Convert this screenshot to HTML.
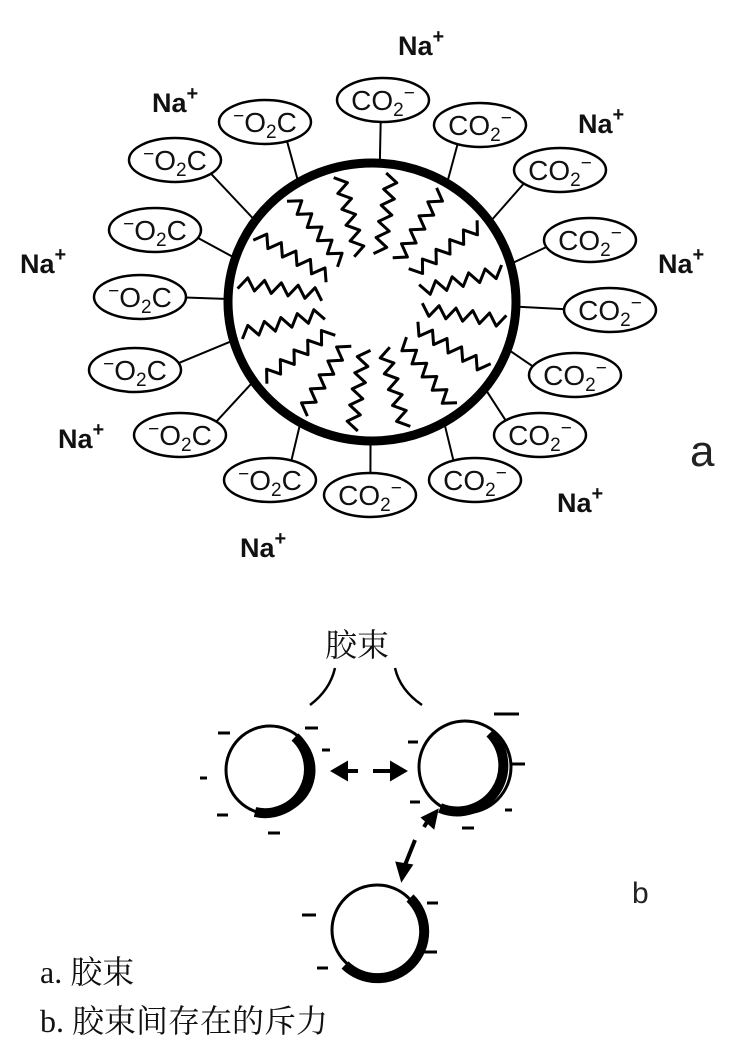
<!DOCTYPE html>
<html><head><meta charset="utf-8"><style>
html,body{margin:0;padding:0;background:#fff;width:755px;height:1054px;overflow:hidden}
svg{position:absolute;left:0;top:0}
.t{font-family:"Liberation Sans",sans-serif;font-weight:bold;font-size:27px;fill:#111}
.e{font-family:"Liberation Sans",sans-serif;font-size:28px;fill:#111}
.c{font-family:"Liberation Serif","Noto Serif CJK SC",serif;font-size:32px;fill:#111}
</style></head><body>
<svg id="s" width="755" height="1054" viewBox="0 0 755 1054" xmlns="http://www.w3.org/2000/svg">
<g id="tails" stroke="#000" stroke-width="3" fill="none" stroke-linejoin="round"></g>
<g id="conn" stroke="#000" stroke-width="2" fill="none"></g>
<ellipse cx="372" cy="302" rx="144" ry="139" fill="none" stroke="#000" stroke-width="9"/>
<g id="ells" fill="#fff" stroke="#000" stroke-width="2.5"></g>
<g id="lbl"></g>
<text class="t" x="398" y="55">Na<tspan font-size="20" dy="-12">+</tspan></text>
<text class="t" x="152" y="112">Na<tspan font-size="20" dy="-12">+</tspan></text>
<text class="t" x="578" y="133">Na<tspan font-size="20" dy="-12">+</tspan></text>
<text class="t" x="20" y="273">Na<tspan font-size="20" dy="-12">+</tspan></text>
<text class="t" x="658" y="273">Na<tspan font-size="20" dy="-12">+</tspan></text>
<text class="t" x="58" y="448">Na<tspan font-size="20" dy="-12">+</tspan></text>
<text class="t" x="557" y="512">Na<tspan font-size="20" dy="-12">+</tspan></text>
<text class="t" x="240" y="557">Na<tspan font-size="20" dy="-12">+</tspan></text>
<text x="690" y="466" font-family="Liberation Sans,sans-serif" font-size="44" fill="#222">a</text>
<text x="632" y="903" font-family="Liberation Sans,sans-serif" font-size="30" fill="#222">b</text>
<text class="c" x="325" y="656" font-size="38">胶束</text>
<path d="M335 668 Q330 690 310 705" stroke="#000" stroke-width="2.5" fill="none"/>
<path d="M395 668 Q400 690 422 705" stroke="#000" stroke-width="2.5" fill="none"/>
<g fill="#fff" stroke="#000" stroke-width="3">
<circle cx="270" cy="770" r="44"/><circle cx="465" cy="767" r="46"/><circle cx="377" cy="930" r="45"/>
</g>
<g fill="none" stroke="#000" stroke-width="10">
<path d="M295 737 A44 44 0 0 1 255 812"/>
<path d="M490 733 A46 46 0 0 1 440 808"/>
<path d="M410 898 A45 45 0 0 1 345 965"/>
</g>
<g stroke="#000" stroke-width="4" fill="#000">
<line x1="340" y1="771" x2="358" y2="771"/><polygon points="334,771 346,764 346,778"/>
<line x1="373" y1="771" x2="395" y2="771"/><polygon points="404,771 392,764 392,778"/>
<line x1="424" y1="827" x2="430" y2="817"/><polygon points="436,812 424,818 433,826"/>
<line x1="415" y1="840" x2="403" y2="870"/><polygon points="402,878 398,864 410,866"/>
</g>
<g stroke="#000" stroke-width="3">
<line x1="218" y1="733" x2="230" y2="733"/><line x1="305" y1="728" x2="318" y2="728"/><line x1="322" y1="750" x2="330" y2="750"/>
<line x1="200" y1="778" x2="207" y2="778"/><line x1="217" y1="815" x2="228" y2="815"/><line x1="268" y1="833" x2="280" y2="833"/>
<line x1="494" y1="714" x2="519" y2="714"/><line x1="408" y1="742" x2="418" y2="742"/><line x1="512" y1="764" x2="525" y2="764"/>
<line x1="410" y1="802" x2="420" y2="802"/><line x1="505" y1="810" x2="512" y2="810"/><line x1="462" y1="828" x2="474" y2="828"/>
<line x1="302" y1="915" x2="316" y2="915"/><line x1="427" y1="903" x2="438" y2="903"/><line x1="424" y1="952" x2="437" y2="952"/><line x1="317" y1="968" x2="328" y2="968"/>
</g>
<text class="c" x="40" y="983">a. 胶束</text>
<text class="c" x="40" y="1032">b. 胶束间存在的斥力</text>
</svg>
<script>
var NS="http://www.w3.org/2000/svg",cx=372,cy=302;
var L=[[265,122],[175,160],[155,230],[140,297],[135,370],[180,435],[270,480]];
var R=[[383,100],[480,125],[560,170],[590,240],[610,310],[575,375],[540,435],[475,480],[370,495]];
function el(g,t,a){var e=document.createElementNS(NS,t);for(var k in a)e.setAttribute(k,a[k]);document.getElementById(g).appendChild(e);return e;}
function add(p,left){
 var dx=p[0]-cx,dy=p[1]-cy,d=Math.hypot(dx,dy),ux=dx/d,uy=dy/d;
 var bx=cx+ux*144,by=cy+uy*139;
 el("conn","line",{x1:bx,y1:by,x2:p[0]-ux*42,y2:p[1]-uy*20});
 el("ells","ellipse",{cx:p[0],cy:p[1],rx:46,ry:22});
 var t=el("lbl","text",{x:p[0],y:p[1]+10,"text-anchor":"middle","class":"e"});
 t.innerHTML=left?'<tspan font-size="19" dy="-10">−</tspan><tspan dy="10">O</tspan><tspan font-size="19" dy="6">2</tspan><tspan dy="-6">C</tspan>':'CO<tspan font-size="19" dy="6">2</tspan><tspan font-size="19" dy="-17">−</tspan>';
}
L.forEach(function(p){add(p,1)});R.forEach(function(p){add(p,0)});
for(var i=0;i<16;i++){
 var a=i/16*Math.PI*2+0.15,ux=Math.cos(a),uy=Math.sin(a),px=-uy,py=ux;
 var d="";for(var s=0;s<=10;s++){var r=135-s*8.5,o=(s%2?1:-1)*6;var x=cx+ux*r+px*o,y=cy+uy*r*0.96+py*o;d+=(s?"L":"M")+x.toFixed(1)+" "+y.toFixed(1);}
 el("tails","path",{d:d});
}
</script>
</body></html>
